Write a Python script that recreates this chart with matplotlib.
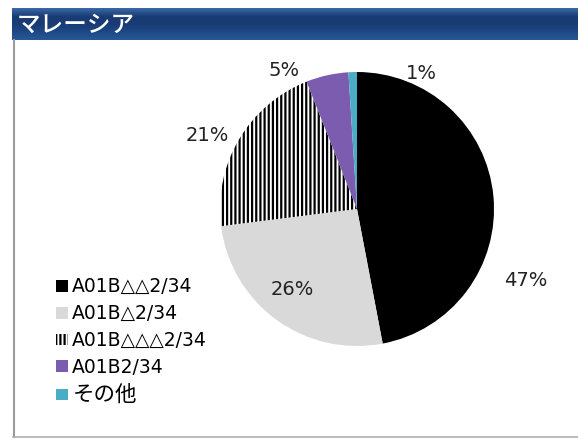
import numpy as np
import matplotlib
matplotlib.use("Agg")
import matplotlib.pyplot as plt
from matplotlib.lines import Line2D
from matplotlib.colors import LinearSegmentedColormap

plt.rcParams['font.family'] = ['DejaVu Sans', 'Noto Sans CJK JP']
plt.rcParams['hatch.linewidth'] = 1.6

title = "マレーシア"
categories = ["A01B△△2/34", "A01B△2/34", "A01B△△△2/34", "A01B2/34", "その他"]
values = [47, 26, 21, 5, 1]
pct_labels = ["47%", "26%", "21%", "5%", "1%"]
colors = ["#000000", "#d9d9d9", "#ffffff", "#7b5cae", "#4bacc6"]
hatches = [None, None, "||||", None, None]
# label positions in pie units (relative to centre, radius = 1)
label_pos = [(1.23, -0.52), (-0.47, -0.59), (-1.09, 0.54), (-0.53, 1.01), (0.47, 0.99)]

W, H = 578, 440
fig = plt.figure(figsize=(W / 100, H / 100), dpi=100)
fig.patch.set_facecolor("white")

# title bar with gradient
tb = fig.add_axes([12 / W, 1 - 40 / H, (W - 12) / W, 32 / H])
grad = np.linspace(0, 1, 64).reshape(-1, 1)
cmap = LinearSegmentedColormap.from_list("bar", ["#3a6aa6", "#1a3c76", "#193b74", "#1d4886", "#285896"])
tb.imshow(grad, aspect="auto", cmap=cmap, extent=[0, 1, 0, 1], origin="upper")
tb.set_xlim(0, 1); tb.set_ylim(0, 1)
tb.axis("off")
tb.text(5 / (W - 12), 0.47, title, color="white", fontsize=17, va="center", ha="left",
        transform=tb.transAxes, family=['Noto Sans CJK JP', 'DejaVu Sans'], fontweight="medium")

# panel border
fig.add_artist(Line2D([13.5 / W, 13.5 / W], [1 - 40 / H, 1 - 437 / H], color="#9a9a9a", lw=1.5))
fig.add_artist(Line2D([13 / W, 1.0], [1 - 437 / H, 1 - 437 / H], color="#b0b0b0", lw=1.2))

# pie
cx, cy, r = 357, 209, 137
ax = fig.add_axes([(cx - r) / W, (H - cy - r) / H, 2 * r / W, 2 * r / H])
wedges, _ = ax.pie(values, colors=colors, startangle=90, counterclock=False, radius=1,
                   wedgeprops=dict(linewidth=0))
for w, h in zip(wedges, hatches):
    if h:
        w.set_hatch(h)
        w.set_edgecolor("black")
ax.set_xlim(-1, 1); ax.set_ylim(-1, 1)
ax.set_aspect("equal")
ax.axis("off")
for (x, y), t in zip(label_pos, pct_labels):
    ax.text(x, y, t, ha="center", va="center", fontsize=14, color="#222222")

leg = fig.legend(wedges, categories, loc="upper left", bbox_to_anchor=(47 / W, 1 - 268 / H),
                 frameon=False, fontsize=13.5, handlelength=0.6, handleheight=0.6,
                 handletextpad=0.25, labelspacing=0.42, borderpad=0)
leg.get_texts()[4].set_fontsize(15.5)
fig.savefig("out.png", dpi=100)
